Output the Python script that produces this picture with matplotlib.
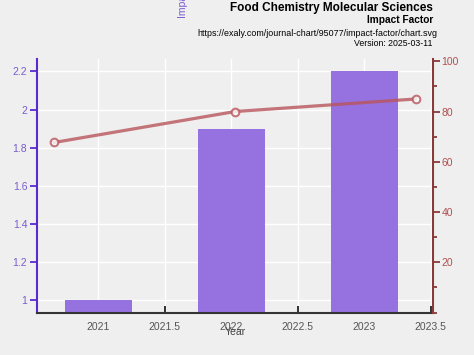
import matplotlib
matplotlib.use("Agg")
import matplotlib.pyplot as plt
from matplotlib.ticker import MultipleLocator

plt.rcParams['font.family'] = ['Liberation Sans', 'DejaVu Sans']

years = [2021, 2022, 2023]
impact_factor = [1.0, 1.9, 2.2]
line_values = [67.7, 80.0, 85.0]
line_idx = [0, 1, 2]
x_ticks = [2021, 2021.5, 2022, 2022.5, 2023, 2023.5]
x_tick_labels = ["2021", "2021.5", "2022", "2022.5", "2023", "2023.5"]
y_ticks = [1.0, 1.2, 1.4, 1.6, 1.8, 2.0, 2.2]
y_tick_labels = ["1", "1.2", "1.4", "1.6", "1.8", "2", "2.2"]
r_ticks = [20, 40, 60, 80, 100]

bg = "#efefef"
purple = "#9672e0"
purple_spine = "#5a2ad0"
purple_text = "#7a5bd0"
red_spine = "#8b3a3a"
red_text = "#b05050"
line_col = "#b8555c"

fig = plt.figure(figsize=(4.74, 3.55), dpi=100, facecolor=bg)
pos = [0.0781, 0.1197, 0.9135 - 0.0781, 0.833 - 0.1197]
ax = fig.add_axes(pos, facecolor=bg)
ax.bar(years, impact_factor, width=0.5, color=purple, zorder=2)
ax.set_xlim(2020.538, 2023.517)
ax.set_ylim(0.937, 2.263)
ax.set_xticks(x_ticks)
ax.set_xticklabels(x_tick_labels)
ax.set_yticks(y_ticks)
ax.set_yticklabels(y_tick_labels)
ax.grid(True, color="white", linewidth=1.0, zorder=0)
ax.set_axisbelow(True)
for s in ["top", "right"]:
    ax.spines[s].set_visible(False)
ax.spines["left"].set_color(purple_spine)
ax.spines["left"].set_linewidth(1.5)
ax.spines["bottom"].set_color("#333333")
ax.spines["bottom"].set_linewidth(1.5)
ax.tick_params(axis="x", direction="in", length=5, width=1.3, color="#222222",
               labelsize=7.5, labelcolor="#555555", pad=7)
ax.tick_params(axis="y", direction="out", length=5, width=1.3, color=purple_spine,
               labelsize=7.5, labelcolor=purple_text, pad=2)
ax.set_xlabel("Year", fontsize=7.5, color="#444444", labelpad=-4)

ax2 = fig.add_axes(pos, facecolor="none")
ax2.plot(line_idx, line_values, color=line_col, alpha=0.8, linewidth=2.3,
         marker="o", markersize=5.5, markerfacecolor="white",
         markeredgecolor=line_col, markeredgewidth=1.5, zorder=3)
ax2.set_xlim(-0.096, 2.096)
ax2.set_ylim(0, 100.8)
ax2.xaxis.set_visible(False)
ax2.yaxis.tick_right()
ax2.set_yticks(r_ticks)
ax2.yaxis.set_minor_locator(MultipleLocator(10))
for s in ["top", "left", "bottom"]:
    ax2.spines[s].set_visible(False)
ax2.spines["right"].set_color(red_spine)
ax2.spines["right"].set_linewidth(1.5)
ax2.tick_params(axis="y", which="major", direction="out", length=5, width=1.3,
                color=red_spine, labelsize=7.5, labelcolor=red_text, pad=1)
ax2.tick_params(axis="y", which="minor", direction="out", length=3, width=1.3,
                color=red_spine)

fig.text(433 / 474, 1 - 8 / 355, "Food Chemistry Molecular Sciences", ha="right",
         va="center", fontsize=8.5, fontweight="bold", color="black")
fig.text(433 / 474, 1 - 20 / 355, "Impact Factor", ha="right", va="center",
         fontsize=7.3, fontweight="bold", color="black")
fig.text(437 / 474, 1 - 33 / 355, "https://exaly.com/journal-chart/95077/impact-factor/chart.svg",
         ha="right", va="center", fontsize=6.4, color="black")
fig.text(432 / 474, 1 - 44 / 355, "Version: 2025-03-11", ha="right", va="center",
         fontsize=6.3, color="black")
fig.text(183 / 474, 1 - 18 / 355, "Impact Factor", rotation=90, ha="center",
         va="bottom", fontsize=7.5, color=purple_text)

fig.savefig("out.png", dpi=100, facecolor=bg)
